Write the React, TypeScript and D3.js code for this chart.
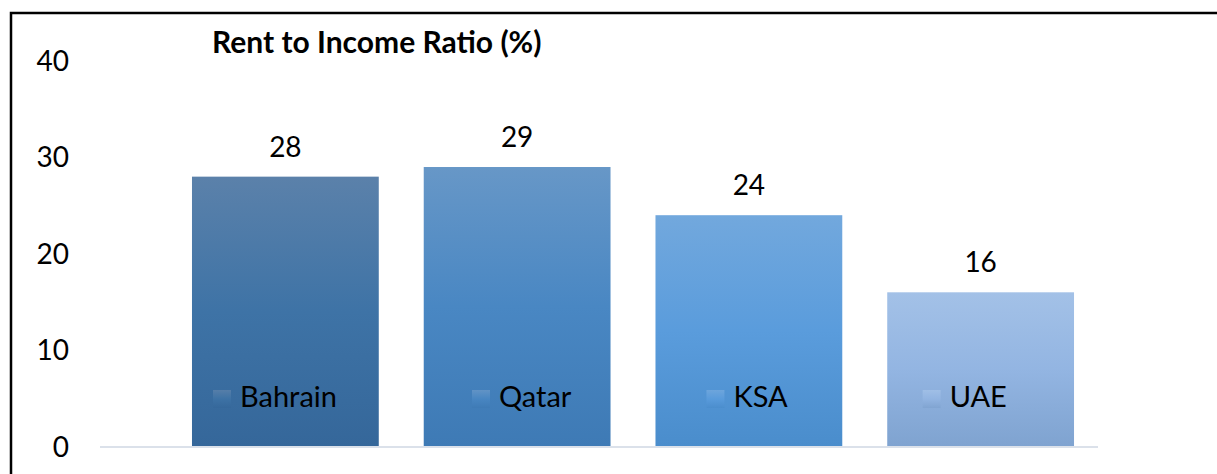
import React, { useEffect, useRef } from 'react';
import * as d3 from 'd3';

const countries = ['Bahrain', 'Qatar', 'KSA', 'UAE'];
const ratios = [28, 29, 24, 16];
const yTicks = [0, 10, 20, 30, 40];
const barTop = ['#5b81aa', '#6797c7', '#72a8dd', '#a3c1e7'];
const barMid = ['#3e73a6', '#4987c3', '#5a9cdc', '#93b5e2'];
const barBottom = ['#35679a', '#3e7ab5', '#4a8dcc', '#7fa3d0'];

const App: React.FC = () => {
    const chartRef = useRef<SVGSVGElement>(null);

    useEffect(() => {
        if (!chartRef.current) return;
        d3.select(chartRef.current).selectAll('*').remove();

        const width = 1217;
        const height = 474;
        const font = 'Lato, "Open Sans", sans-serif';

        const svg = d3.select(chartRef.current)
            .attr('width', width)
            .attr('height', height)
            .attr('viewBox', `0 0 ${width} ${height}`);

        svg.append('rect').attr('width', width).attr('height', height).attr('fill', '#fff');

        // chart frame (only top and left edges are inside the picture)
        svg.append('rect')
            .attr('x', 11).attr('y', 13)
            .attr('width', width + 20).attr('height', height + 20)
            .attr('fill', 'none')
            .attr('stroke', '#000')
            .attr('stroke-width', 2.5);

        const x = d3.scaleBand<string>()
            .domain(countries)
            .range([169.5, 1096.5])
            .paddingInner(0.194)
            .paddingOuter(0.097);

        const y = d3.scaleLinear().domain([0, 40]).range([446.5, 61]);

        // gradients
        const defs = svg.append('defs');
        countries.forEach((c, i) => {
            const grad = defs.append('linearGradient')
                .attr('id', `grad-${i}`)
                .attr('x1', 0).attr('y1', 0).attr('x2', 0).attr('y2', 1);
            grad.append('stop').attr('offset', '0%').attr('stop-color', barTop[i]);
            grad.append('stop').attr('offset', '50%').attr('stop-color', barMid[i]);
            grad.append('stop').attr('offset', '100%').attr('stop-color', barBottom[i]);
        });

        // y tick labels
        svg.append('g')
            .selectAll('text')
            .data(yTicks)
            .enter()
            .append('text')
            .attr('x', 69)
            .attr('y', d => y(d))
            .attr('dy', '0.36em')
            .attr('text-anchor', 'end')
            .attr('font-family', font)
            .attr('font-size', '28px')
            .attr('fill', '#000')
            .text(d => d);

        // bars
        svg.append('g')
            .selectAll('rect')
            .data(ratios)
            .enter()
            .append('rect')
            .attr('x', (_, i) => x(countries[i]) as number)
            .attr('y', d => y(d))
            .attr('width', x.bandwidth())
            .attr('height', d => y(0) - y(d))
            .attr('fill', (_, i) => `url(#grad-${i})`);

        // baseline
        svg.append('line')
            .attr('x1', 100).attr('x2', 1098)
            .attr('y1', y(0) + 0.5).attr('y2', y(0) + 0.5)
            .attr('stroke', '#dbe1ea')
            .attr('stroke-width', 2);

        // value labels
        svg.append('g')
            .selectAll('text')
            .data(ratios)
            .enter()
            .append('text')
            .attr('x', (_, i) => (x(countries[i]) as number) + x.bandwidth() / 2)
            .attr('y', d => y(d) - 20)
            .attr('text-anchor', 'middle')
            .attr('font-family', font)
            .attr('font-size', '28px')
            .attr('fill', '#000')
            .text(d => d);

        // title
        svg.append('text')
            .attr('x', 212)
            .attr('y', 53)
            .attr('font-family', font)
            .attr('font-size', '30px')
            .attr('font-weight', 'bold')
            .attr('fill', '#000')
            .text('Rent to Income Ratio (%)');

        // legend, laid out one item after the other
        const legend = svg.append('g');
        let lx = 213;
        countries.forEach((c, i) => {
            legend.append('rect')
                .attr('x', lx).attr('y', 390)
                .attr('width', 18).attr('height', 18)
                .attr('fill', `url(#grad-${i})`)
                .attr('opacity', 0.85);
            const t = legend.append('text')
                .attr('x', lx + 27)
                .attr('y', 407)
                .attr('font-family', font)
                .attr('font-size', '29px')
                .attr('fill', '#000')
                .text(c);
            const w = (t.node() as SVGTextElement).getComputedTextLength();
            lx = lx + 27 + w + 135;
        });
    }, []);

    return (
        <div style={{ position: 'absolute', left: 0, top: 0 }}>
            <svg ref={chartRef} style={{ display: 'block' }}></svg>
        </div>
    );
};

export default App;
